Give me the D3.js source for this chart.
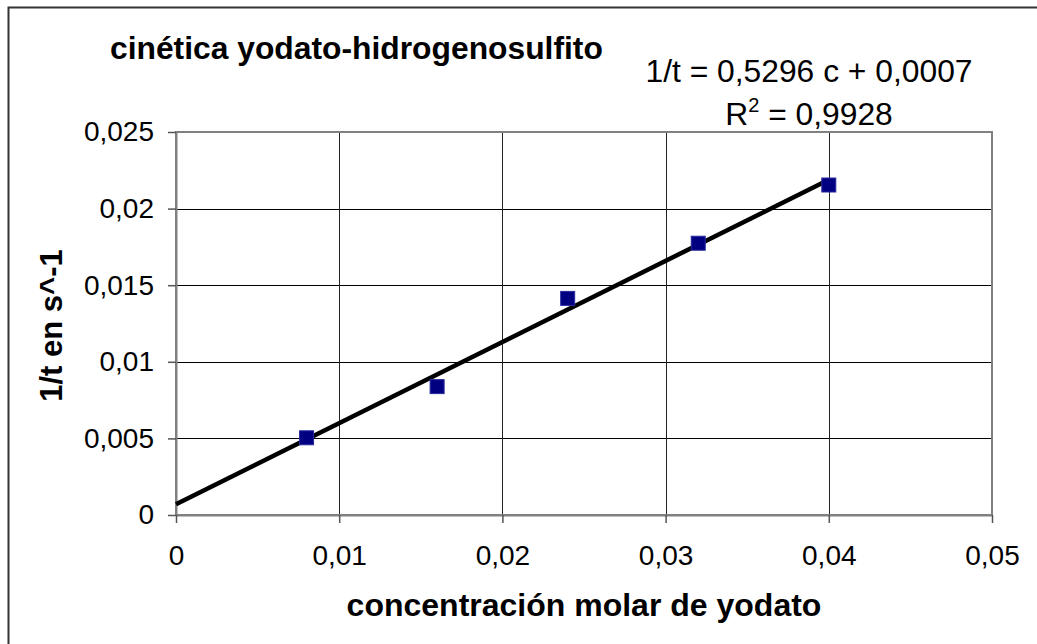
<!DOCTYPE html>
<html>
<head>
<meta charset="utf-8">
<script src="https://cdn.jsdelivr.net/npm/d3@7"></script>
<style>
  body { margin: 0; background: #fff; }
  text { font-family: "Liberation Sans", Arial, sans-serif; fill: #000; }
</style>
</head>
<body>
<svg width="1037" height="644"></svg>
<script>
// datos
var concentracion = [0.008, 0.016, 0.024, 0.032, 0.040];
var inversoTiempo = [0.00504, 0.00838, 0.01414, 0.01774, 0.02154];
var xTicks = [0, 0.01, 0.02, 0.03, 0.04, 0.05];
var yTicks = [0, 0.005, 0.01, 0.015, 0.02, 0.025];
var pendiente = 0.5296, ordenada = 0.0007;

var margin = {top: 132, right: 45, bottom: 129, left: 176},
    width = 1037 - margin.left - margin.right,
    height = 644 - margin.top - margin.bottom;

var coma = function(d) { return String(d).replace(".", ","); };

var svg = d3.select("svg");

// marco exterior
svg.append("rect")
   .attr("x", 8.5).attr("y", 7.5)
   .attr("width", 1060).attr("height", 660)
   .style("fill", "none")
   .style("stroke", "#333")
   .style("stroke-width", 2);

var g = svg.append("g")
   .attr("transform", "translate(" + margin.left + "," + margin.top + ")");

var x = d3.scaleLinear().domain([0, 0.05]).range([0, width]);
var y = d3.scaleLinear().domain([0, 0.025]).range([height, 0]);

// rejilla
g.append("g")
   .selectAll("line")
   .data(yTicks.slice(1))
   .enter().append("line")
   .attr("x1", 0).attr("x2", width)
   .attr("y1", function(d) { return Math.round(y(d)) + 0.5; })
   .attr("y2", function(d) { return Math.round(y(d)) + 0.5; })
   .style("stroke", "#000");

g.append("g")
   .selectAll("line")
   .data(xTicks.slice(1))
   .enter().append("line")
   .attr("y1", 0).attr("y2", height)
   .attr("x1", function(d) { return Math.round(x(d)) + 0.5; })
   .attr("x2", function(d) { return Math.round(x(d)) + 0.5; })
   .style("stroke", "#222");

// borde del area de trazado
g.append("rect")
   .attr("width", width).attr("height", height)
   .style("fill", "none")
   .style("stroke", "#808080")
   .style("stroke-width", 2);

var yAxis = g.append("g")
   .call(d3.axisLeft(y).tickValues(yTicks).tickFormat(coma).tickSize(8).tickSizeOuter(0).tickPadding(14));

var xAxis = g.append("g")
   .attr("transform", "translate(0," + height + ")")
   .call(d3.axisBottom(x).tickValues(xTicks).tickFormat(coma).tickSize(8).tickSizeOuter(0).tickPadding(22));

[yAxis, xAxis].forEach(function(a) {
   a.select(".domain").style("stroke", "#808080").style("stroke-width", 2);
   a.selectAll(".tick line").style("stroke", "#555").style("stroke-width", 1.5);
   a.selectAll("text").style("font-size", "28px").style("font-family", "Liberation Sans, Arial, sans-serif");
});

// linea de tendencia
g.append("line")
   .attr("x1", x(0)).attr("y1", y(ordenada))
   .attr("x2", x(0.04)).attr("y2", y(pendiente * 0.04 + ordenada))
   .style("stroke", "#000")
   .style("stroke-width", 4.5);

// puntos
g.append("g")
   .selectAll("rect")
   .data(concentracion)
   .enter().append("rect")
   .attr("x", function(d) { return x(d) - 7; })
   .attr("y", function(d, i) { return y(inversoTiempo[i]) - 7; })
   .attr("width", 14).attr("height", 14)
   .style("fill", "#000080")
   .style("stroke", "#2a2aa0")
   .style("stroke-width", 1);

// textos
svg.append("text")
   .attr("x", 110).attr("y", 59)
   .style("font-size", "31.8px").style("font-weight", "bold")
   .text("cinética yodato-hidrogenosulfito");

svg.append("text")
   .attr("x", 809).attr("y", 82)
   .attr("text-anchor", "middle")
   .style("font-size", "31.8px")
   .text("1/t = 0,5296 c + 0,0007");

var r2 = svg.append("text")
   .attr("x", 809).attr("y", 125)
   .attr("text-anchor", "middle")
   .style("font-size", "31.8px");
r2.append("tspan").text("R");
r2.append("tspan").attr("dy", -13).style("font-size", "20px").text("2");
r2.append("tspan").attr("dy", 13).text(" = 0,9928");

svg.append("text")
   .attr("x", margin.left + width / 2).attr("y", 616)
   .attr("text-anchor", "middle")
   .style("font-size", "32px").style("font-weight", "bold")
   .text("concentración molar de yodato");

svg.append("text")
   .attr("transform", "translate(62," + (margin.top + height / 2 + 2) + ") rotate(-90)")
   .attr("text-anchor", "middle")
   .style("font-size", "31px").style("font-weight", "bold")
   .text("1/t en s^-1");
</script>
</body>
</html>
